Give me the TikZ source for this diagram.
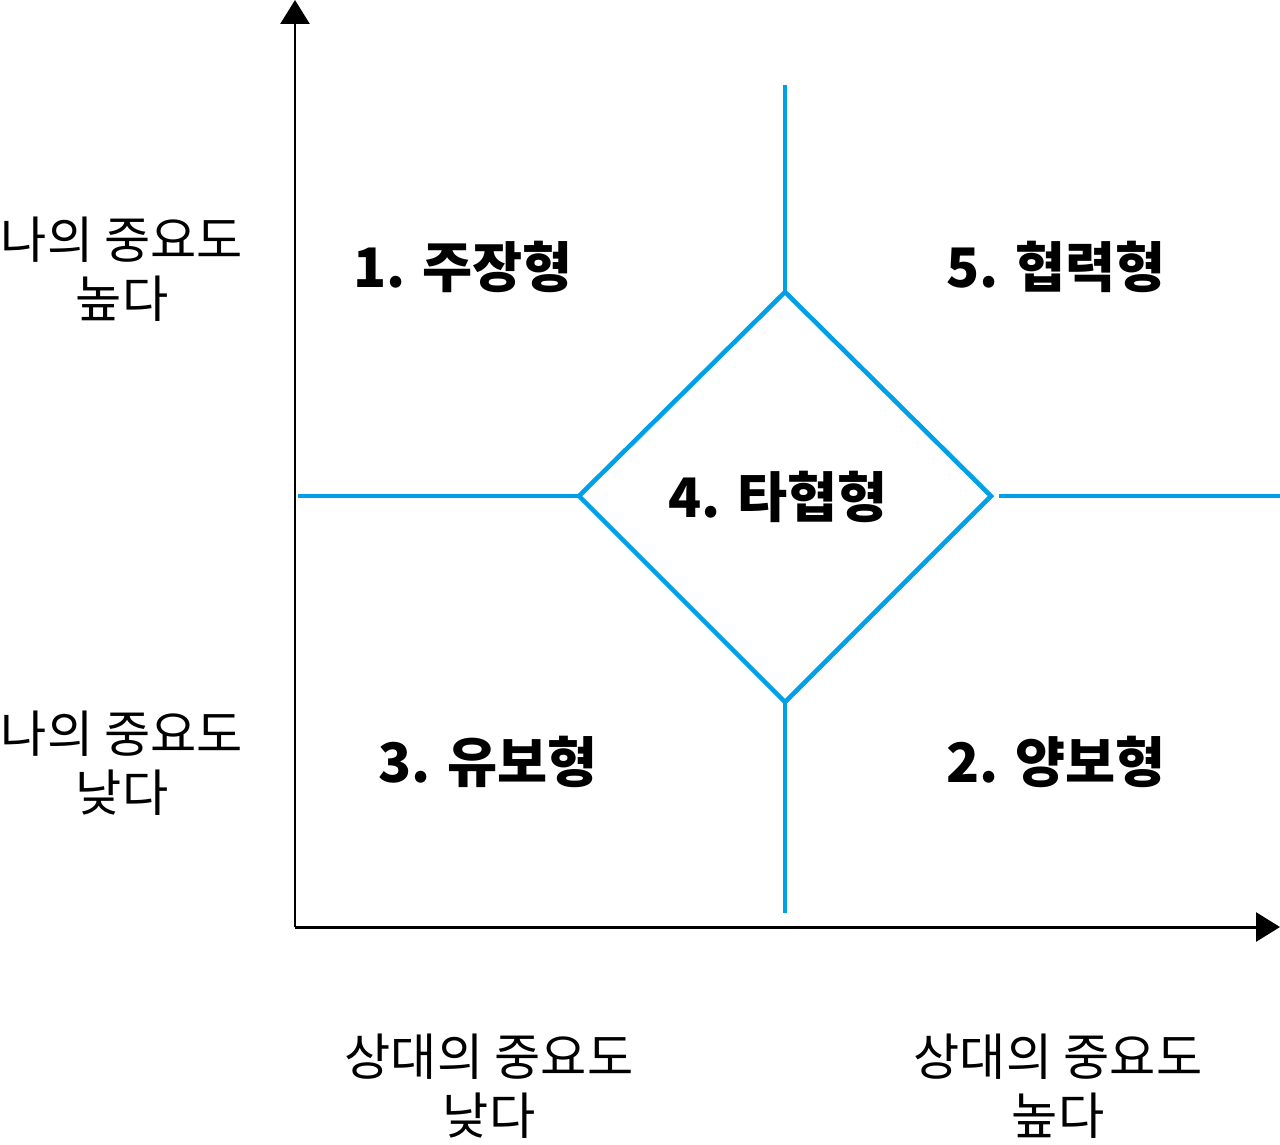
\documentclass[tikz,border=0pt]{standalone}
\usepackage{fontspec}
\newfontfamily\kr{Noto Sans CJK KR}
\usetikzlibrary{arrows.meta}
\definecolor{lineblue}{HTML}{00A0E9}
\tikzset{
  axis/.style={line width=1.7pt, -{Triangle[width=16.4pt,length=13.6pt]}},
  blueline/.style={draw=lineblue, line width=2.6pt},
  typelbl/.style={font=\kr\bfseries\fontsize{31pt}{38pt}\selectfont, inner sep=0pt},
  axislbl/.style={font=\kr\fontsize{28.6pt}{33.5pt}\selectfont, align=center, inner sep=0pt},
}
\begin{document}
\begin{tikzpicture}[x=0.02cm,y=-0.02cm]
\useasboundingbox (0,0) rectangle (1280,1144);
% axes
\coordinate (O) at (295,927);
\coordinate (Ytip) at (295,0);
\coordinate (Xtip) at (1280,927);
\draw[axis] (O) -- (Ytip);
\draw[axis] (O) -- (Xtip);
% diamond
\coordinate (dT) at (785,292);
\coordinate (dL) at (579,496);
\coordinate (dR) at (991,496);
\coordinate (dB) at (785,702);
\coordinate (vTop) at (785,85);
\coordinate (vBot) at (785,913);
\coordinate (hL) at (298,496);
\coordinate (hR1) at (999,496);
\coordinate (hR2) at (1280,496);
\draw[blueline, line join=miter] (dT) -- (dR) -- (dB) -- (dL) -- cycle;
\draw[blueline] (vTop) -- (dT);
\draw[blueline] (dB) -- (vBot);
\draw[blueline] (hL) -- (dL);
\draw[blueline] (hR1) -- (hR2);
% type labels
\node[typelbl] (t1) at (463,267) {1. 주장형};
\node[typelbl] (t5) at (1056,267) {5. 협력형};
\node[typelbl] (t4) at (778,497) {4. 타협형};
\node[typelbl] (t3) at (488,762) {3. 유보형};
\node[typelbl] (t2) at (1056,762) {2. 양보형};
% axis labels
\node[axislbl] (l1) at (122,269) {나의 중요도\\높다};
\node[axislbl] (l2) at (122,763) {나의 중요도\\낮다};
\node[axislbl] (l3) at (489,1086) {상대의 중요도\\낮다};
\node[axislbl] (l4) at (1058,1086) {상대의 중요도\\높다};
\end{tikzpicture}
\end{document}
